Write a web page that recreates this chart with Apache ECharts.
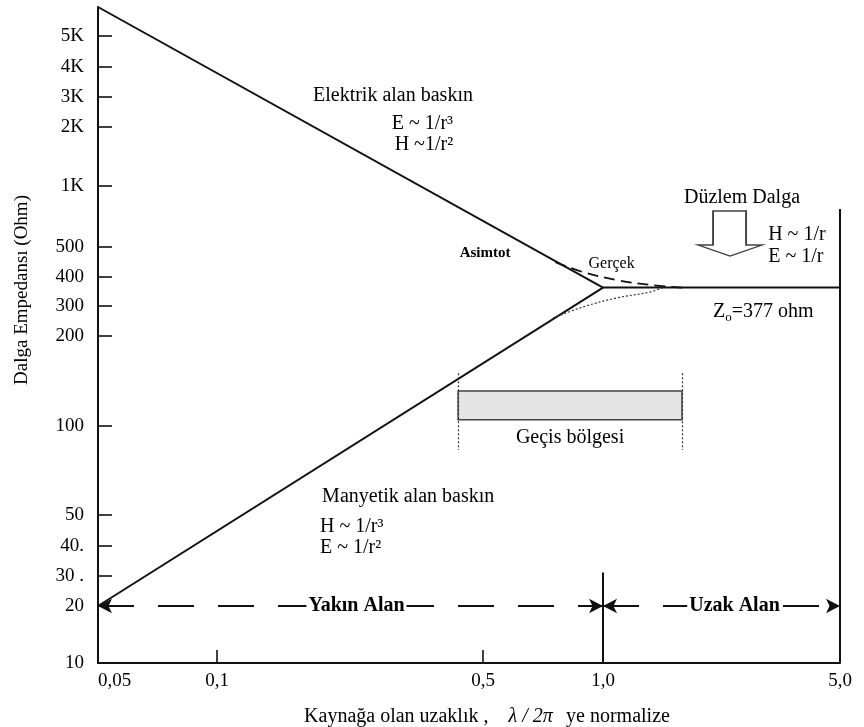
<!DOCTYPE html>
<html>
<head>
<meta charset="utf-8">
<script src="https://cdn.jsdelivr.net/npm/echarts@6/dist/echarts.min.js"></script>
<style>
  html, body { margin: 0; padding: 0; background: #fff; }
  #main { width: 864px; height: 727px; }
</style>
</head>
<body>
<div id="main"></div>
<script>
// the printed axes are log-like but uneven, so every tick keeps the place it
// has in the figure (axis units, counted from the origin)
var xTicks = [0.05, 0.1, 0.5, 1.0, 5.0];
var xTickLabels = ['0,05', '0,1', '0,5', '1,0', '5,0'];
var xTickAt = [0, 119, 385, 505, 742];

var yTicks = [10, 20, 30, 40, 50, 100, 200, 300, 400, 500, 1000, 2000, 3000, 4000, 5000, 6000];
var yTickLabels = ['10', '20', '30 .', '40.', '50', '100', '200', '300', '400', '500', '1K', '2K', '3K', '4K', '5K', ''];
var yTickAt = [0, 57, 87, 117, 148, 237, 327, 357, 386, 416, 477, 536, 566, 596, 627, 656];

// lines: [distance (lambda/2pi), impedance (ohm)]
var electricAsym = [[0.05, 6000], [1.0, 360]];
var magneticAsym = [[0.05, 20], [1.0, 360]];
var planeWave = [[1.0, 360], [5.0, 360]];
var actualUpper = [[0.76, 447], [0.89, 415], [1.1, 388], [1.38, 370], [1.71, 360]];
var actualLower = [[0.75, 255], [0.89, 296], [1.1, 325], [1.38, 345], [1.5, 360]];

var transitionRange = [0.43, 1.71];
var transitionBand = [105, 131];
var transitionGuide = [83, 150];

var zoneBounds = [0.05, 1.0, 5.0];
var zoneLevel = 20;
var zoneNames = ['Yakın Alan', 'Uzak Alan'];
var dividerTop = 31;
var farEdgeTop = 770;
var axisFloor = 10;

var planeArrowAt = [2.37, 583];

var notes = [
  { text: 'Elektrik alan baskın', at: [0.29, 3050], align: 'center' },
  { text: 'E ~ 1/r³', at: [0.288, 2100], align: 'left' },
  { text: 'H ~1/r²', at: [0.293, 1620], align: 'left' },
  { text: 'Asimtot', at: [0.506, 478], align: 'center' },
  { text: 'Gerçek', at: [1.06, 440], align: 'center' },
  { text: 'Düzlem Dalga', at: [2.57, 873], align: 'center' },
  { text: 'H ~ 1/r', at: [3.07, 573], align: 'left' },
  { text: 'E ~ 1/r', at: [3.07, 464], align: 'left' },
  { text: '{n|Z}{s|o}{n|=377 ohm}', at: [2.11, 277], align: 'left' },
  { text: 'Manyetik alan baskın', at: [0.318, 57.5], align: 'center' },
  { text: 'H ~ 1/r³', at: [0.1865, 45.8], align: 'left' },
  { text: 'E ~ 1/r²', at: [0.1865, 39.2], align: 'left' }
];

var FONT = '"Liberation Serif", "Times New Roman", serif';
var INK = '#000';

function warp(v, ticks, at) {
  var lv = Math.log(v);
  for (var i = 1; i < ticks.length; i++) {
    if (v <= ticks[i] || i === ticks.length - 1) {
      var a = Math.log(ticks[i - 1]), b = Math.log(ticks[i]);
      return at[i - 1] + (lv - a) / (b - a) * (at[i] - at[i - 1]);
    }
  }
}
function wx(v) { return warp(v, xTicks, xTickAt); }
function wy(v) { return warp(v, yTicks, yTickAt); }
function pt(p) { return [wx(p[0]), wy(p[1])]; }

function labelFor(v, at, labels) {
  var best = 0;
  for (var i = 1; i < at.length; i++) {
    if (Math.abs(at[i] - v) < Math.abs(at[best] - v)) best = i;
  }
  return labels[best];
}

function plainLine(data, extra) {
  var s = {
    type: 'line',
    data: data.map(pt),
    symbol: 'none',
    silent: true,
    lineStyle: { color: '#111', width: 2 }
  };
  for (var k in extra) s[k] = extra[k];
  return s;
}

var chart = echarts.init(document.getElementById('main'));

var noteData = notes.map(function (n) {
  var small = n.text === 'Asimtot' || n.text === 'Gerçek';
  return {
    value: pt(n.at),
    label: {
      show: true,
      position: 'inside',
      align: n.align,
      verticalAlign: 'middle',
      formatter: n.text,
      color: INK,
      opacity: 1,
      textBorderWidth: 0,
      fontFamily: FONT,
      fontSize: n.text === 'Asimtot' ? 15 : (small ? 16 : 20),
      fontWeight: n.text === 'Asimtot' ? 'bold' : 'normal',
      rich: {
        n: { fontSize: 20, fontFamily: FONT, color: INK },
        s: { fontSize: 13, fontFamily: FONT, color: INK, verticalAlign: 'top', padding: [12, 0, 0, 0] }
      }
    }
  };
});

// the printed names sit a little right of the middle of their arrows
var zoneShift = [6, 13];

var option = {
  animation: false,
  backgroundColor: '#fff',
  grid: { left: 98, right: 24, top: 7, bottom: 64, containLabel: false, outerBoundsMode: 'none' },
  xAxis: {
    type: 'value',
    min: 0,
    max: xTickAt[xTickAt.length - 1],
    name: '{a|Kaynağa olan uzaklık ,}      {b|λ / 2π}    {a|ye normalize}',
    nameLocation: 'middle',
    nameGap: 44,
    nameTextStyle: {
      padding: [0, 0, 0, 36],
      rich: {
        a: { fontFamily: FONT, fontSize: 20, color: INK },
        b: { fontFamily: FONT, fontSize: 20, color: INK, fontStyle: 'italic' }
      }
    },
    axisLine: { show: true, onZero: false, lineStyle: { color: '#111', width: 2 } },
    axisTick: { show: true, inside: true, length: 13, customValues: [xTickAt[1], xTickAt[2]], lineStyle: { color: '#111', width: 1.6 } },
    axisLabel: {
      customValues: xTickAt,
      formatter: function (v) { return labelFor(v, xTickAt, xTickLabels); },
      color: INK, fontFamily: FONT, fontSize: 19, margin: 9,
      alignMinLabel: 'left'
    },
    splitLine: { show: false }
  },
  yAxis: {
    type: 'value',
    min: 0,
    max: yTickAt[yTickAt.length - 1],
    name: 'Dalga Empedansı (Ohm)',
    nameLocation: 'middle',
    nameRotate: 90,
    nameGap: 66,
    nameTextStyle: { fontFamily: FONT, fontSize: 19, color: INK, padding: [0, 0, 0, 90] },
    axisLine: { show: true, onZero: false, lineStyle: { color: '#111', width: 2 } },
    axisTick: { show: true, inside: true, length: 14, customValues: yTickAt.slice(1, 15), lineStyle: { color: '#111', width: 1.6 } },
    axisLabel: {
      customValues: yTickAt.slice(0, 15),
      formatter: function (v) { return labelFor(v, yTickAt, yTickLabels); },
      color: INK, fontFamily: FONT, fontSize: 19, margin: 14
    },
    splitLine: { show: false }
  },
  series: [
    plainLine(electricAsym, {}),
    plainLine(magneticAsym, {}),
    plainLine(planeWave, {}),
    plainLine(actualUpper, { smooth: 0.4, lineStyle: { color: '#111', width: 1.8, type: [11, 6] } }),
    plainLine(actualLower, { smooth: 0.4, lineStyle: { color: '#333', width: 1.2, type: [2, 2] } }),
    plainLine([[zoneBounds[1], dividerTop], [zoneBounds[1], axisFloor]], {}),
    plainLine([[zoneBounds[2], farEdgeTop], [zoneBounds[2], axisFloor]], {}),
    {
      type: 'line',
      data: [],
      silent: true,
      markArea: {
        silent: true,
        itemStyle: { color: '#e4e4e4', borderColor: '#444', borderWidth: 1.5 },
        label: {
          show: true, position: 'bottom', distance: 7, formatter: 'Geçis bölgesi',
          color: INK, fontFamily: FONT, fontSize: 20
        },
        data: [[
          { coord: [wx(transitionRange[0]), wy(transitionBand[1])] },
          { coord: [wx(transitionRange[1]), wy(transitionBand[0])] }
        ]]
      },
      markLine: {
        silent: true,
        symbol: 'none',
        label: { show: false },
        lineStyle: { color: '#333', width: 1.2, type: [2, 2] },
        data: transitionRange.map(function (x) {
          return [
            { coord: [wx(x), wy(transitionGuide[1])] },
            { coord: [wx(x), wy(transitionGuide[0])] }
          ];
        })
      }
    },
    {
      type: 'line',
      data: [],
      silent: true,
      markLine: {
        silent: true,
        symbol: ['arrow', 'arrow'],
        symbolSize: [11, 14],
        lineStyle: { color: '#111', width: 1.8, type: [36, 24] },
        label: {
          show: true,
          position: 'insideMiddle',
          distance: 0,
          color: INK,
          fontFamily: FONT,
          fontSize: 20,
          fontWeight: 'bold',
          backgroundColor: '#fff',
          padding: [0, 2]
        },
        data: [0, 1].map(function (i) {
          return [
            { coord: [wx(zoneBounds[i]), wy(zoneLevel)], label: { formatter: zoneNames[i], offset: [zoneShift[i], 0] } },
            { coord: [wx(zoneBounds[i + 1]), wy(zoneLevel)] }
          ];
        })
      }
    },
    {
      type: 'scatter',
      silent: true,
      symbol: 'path://M15,0 L48,0 L48,34 L64,34 L32,45 L0,34 L15,34 Z',
      symbolSize: [64, 45],
      itemStyle: { color: '#fff', borderColor: '#111', borderWidth: 1.6 },
      data: [pt(planeArrowAt)]
    },
    {
      type: 'scatter',
      silent: true,
      symbolSize: 1,
      itemStyle: { color: '#fff', opacity: 1 },
      data: noteData
    }
  ]
};

chart.setOption(option);
</script>
</body>
</html>
